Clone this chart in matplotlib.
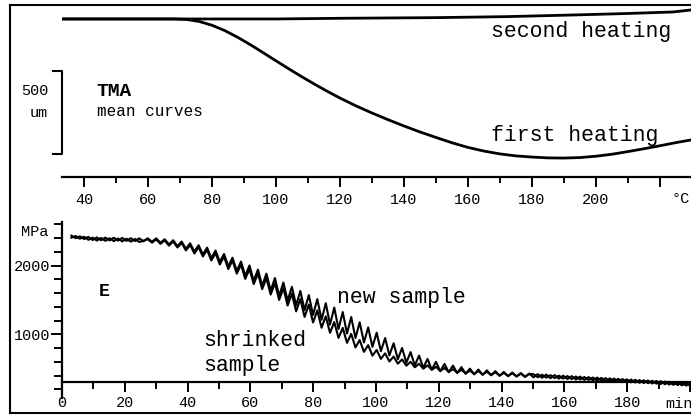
import numpy as np
import matplotlib
matplotlib.use("Agg")
import matplotlib.pyplot as plt
from matplotlib.lines import Line2D
from matplotlib.ticker import MultipleLocator, FixedLocator

plt.rcParams['font.family'] = ['Liberation Mono', 'DejaVu Sans Mono']

# ---------------- TMA (top panel), length change in um vs temperature
tma_temp_first = [33, 60, 68, 72, 76, 80, 84, 88, 92, 96, 100, 104, 108, 112, 116, 120,
                  125, 130, 135, 140, 145, 150, 155, 160, 165, 170, 175, 180, 185, 190,
                  195, 200, 205, 210, 215, 220, 225, 229.7]
tma_first = [0, 0, 0, -3, -15, -38, -70, -110, -155, -203, -252, -300, -347, -392, -435, -476,
             -523, -566, -606, -644, -680, -713, -745, -773, -795, -812, -824, -831, -836, -837,
             -834, -826, -814, -798, -781, -763, -744, -728]
tma_temp_second = [33, 100, 120, 150, 172, 193, 210, 224, 229.7]
tma_second = [0, 0, 4, 8, 14, 24, 33, 42, 54]
scale_bar_um = 500
scale_bar_top = -313

# ---------------- E modulus (bottom panel), MPa vs time, read peak/trough by peak/trough
time_min = np.arange(3, 201, 1.35)
e_new = [2435, 2398, 2425, 2385, 2416, 2371, 2409, 2368, 2406, 2365,
         2404, 2362, 2401, 2359, 2398, 2356, 2396, 2352, 2396, 2347,
         2395, 2332, 2382, 2307, 2368, 2282, 2349, 2243, 2323, 2203,
         2295, 2162, 2260, 2109, 2218, 2055, 2168, 1989, 2114, 1922,
         2058, 1850, 2001, 1778, 1942, 1708, 1882, 1634, 1818, 1559,
         1753, 1489, 1691, 1421, 1630, 1352, 1571, 1281, 1512, 1211,
         1452, 1142, 1389, 1077, 1324, 1011, 1251, 947, 1175, 882,
         1100, 818, 1024, 755, 946, 693, 870, 638, 802, 587,
         741, 549, 690, 514, 642, 487, 600, 463, 569, 449,
         545, 437, 523, 426, 501, 417, 488, 410, 476, 404,
         464, 396, 453, 391, 445, 385, 437, 380, 429, 375,
         421, 368, 414, 362, 407, 355, 399, 350, 392, 343,
         385, 337, 378, 330, 371, 325, 363, 318, 357, 312,
         349, 305, 342, 299, 335, 292, 329, 285, 322, 278,
         314, 270, 306, 262, 298, 254, 290]
e_shrinked = [2405, 2429, 2390, 2418, 2374, 2406, 2363, 2401, 2359, 2397,
              2355, 2393, 2351, 2389, 2347, 2386, 2342, 2361, 2382, 2333,
              2380, 2316, 2365, 2289, 2350, 2262, 2328, 2220, 2298, 2176,
              2267, 2132, 2228, 2074, 2180, 2015, 2128, 1949, 2074, 1882,
              2012, 1806, 1947, 1731, 1883, 1656, 1817, 1578, 1745, 1500,
              1670, 1418, 1592, 1334, 1513, 1253, 1432, 1172, 1348, 1096,
              1262, 1021, 1178, 948, 1093, 876, 1006, 809, 917, 745,
              843, 690, 772, 643, 723, 606, 676, 573, 635, 544,
              600, 521, 573, 500, 549, 484, 527, 468, 510, 454,
              494, 442, 483, 433, 472, 424, 464, 417, 455, 409,
              447, 401, 440, 395, 433, 390, 428, 385, 422, 420,
              376, 413, 370, 406, 363, 399, 356, 393, 349, 386,
              343, 379, 336, 372, 329, 366, 322, 359, 316, 352,
              309, 345, 302, 339, 295, 332, 289, 325, 282, 318,
              274, 310, 266, 302, 258, 294, 250]

W, H = 691, 417


def fx(x):
    return x / W


def fy(y):
    return 1 - y / H


fig = plt.figure(figsize=(W / 100, H / 100), dpi=100)

# ---------- top panel
ax1 = fig.add_axes([fx(62), fy(177), 1 - fx(62), fy(5) - fy(177)])
ax1.plot(tma_temp_second, tma_second, color='black', lw=2.0)
ax1.plot(tma_temp_first, tma_first, color='black', lw=2.0)
ax1.set_xlim(33.125, 229.7)
ax1.set_ylim(-951, 84)
for s in ['top', 'right', 'left']:
    ax1.spines[s].set_visible(False)
ax1.spines['bottom'].set_linewidth(1.6)
ax1.set_yticks([])
ax1.xaxis.set_major_locator(FixedLocator(range(40, 221, 20)))
ax1.xaxis.set_minor_locator(MultipleLocator(10))
ax1.set_xticklabels([str(v) if v <= 200 else '' for v in range(40, 221, 20)])
ax1.tick_params(axis='x', which='major', direction='out', length=7.5, width=1.4,
                labelsize=11, pad=4)
ax1.tick_params(axis='x', which='minor', direction='out', length=4.5, width=1.4)

# 500 um scale bracket
bx0, bx1 = 30.3, 33.125
ax1.plot([bx0, bx1, bx1, bx0],
         [scale_bar_top, scale_bar_top, scale_bar_top - scale_bar_um, scale_bar_top - scale_bar_um],
         color='black', lw=1.5, clip_on=False)

# ---------- bottom panel
ax2 = fig.add_axes([fx(62), fy(413), 1 - fx(62), fy(222) - fy(413)])
ax2.plot(time_min, e_new, color='black', lw=1.5)
ax2.plot(time_min, e_shrinked, color='black', lw=1.5)
ax2.set_xlim(0, 200.3)
ax2.set_ylim(-144, 2633)
ax2.spines['top'].set_visible(False)
ax2.spines['right'].set_visible(False)
ax2.spines['bottom'].set_position(('data', 300))
ax2.spines['left'].set_bounds(70, 2633)
for s in ['bottom', 'left']:
    ax2.spines[s].set_linewidth(1.6)
ax2.xaxis.set_major_locator(FixedLocator(range(0, 201, 20)))
ax2.xaxis.set_minor_locator(MultipleLocator(10))
ax2.set_xticklabels([str(v) if v <= 180 else '' for v in range(0, 201, 20)])
ax2.yaxis.set_major_locator(FixedLocator([1000, 2000]))
ax2.yaxis.set_minor_locator(FixedLocator([200, 400, 600, 800, 1200, 1400, 1600, 1800,
                                          2200, 2400, 2600]))
ax2.tick_params(axis='x', which='major', direction='out', length=7.5, width=1.4,
                labelsize=11, pad=2)
ax2.tick_params(axis='x', which='minor', direction='out', length=5, width=1.4)
ax2.tick_params(axis='y', which='major', direction='out', length=8, width=1.4,
                labelsize=11, pad=0.5)
ax2.tick_params(axis='y', which='minor', direction='out', length=6, width=1.4)

# ---------- texts
big = 15.5
fig.text(fx(491), fy(32), 'second heating', fontsize=big, va='center')
fig.text(fx(491), fy(135), 'first heating', fontsize=big, va='center')
fig.text(fx(96), fy(91), 'TMA', fontsize=14, fontweight='bold', va='center')
fig.text(fx(97), fy(112), 'mean curves', fontsize=11.5, va='center')
fig.text(fx(48), fy(91), '500', fontsize=11, ha='right', va='center')
fig.text(fx(48), fy(113), 'um', fontsize=11, ha='right', va='center')
fig.text(fx(672), fy(199), '°C', fontsize=11, va='center')
fig.text(fx(48), fy(232), 'MPa', fontsize=11, ha='right', va='center')
fig.text(fx(99), fy(292), 'E', fontsize=13, fontweight='bold', va='center')
fig.text(fx(337), fy(297), 'new sample', fontsize=big, va='center')
fig.text(fx(203), fy(341), 'shrinked', fontsize=big, va='center')
fig.text(fx(203), fy(366), 'sample', fontsize=big, va='center')
fig.text(fx(665), fy(404), 'min', fontsize=11, va='center')

# ---------- outer frame (open on the right)
for xs, ys in [([10, 10], [5, 413]), ([10, 691], [5, 5]), ([10, 691], [413, 413])]:
    fig.add_artist(Line2D([fx(x) for x in xs], [fy(y) for y in ys],
                          transform=fig.transFigure, color='black', lw=1.5))

fig.savefig('out.png', dpi=100)
